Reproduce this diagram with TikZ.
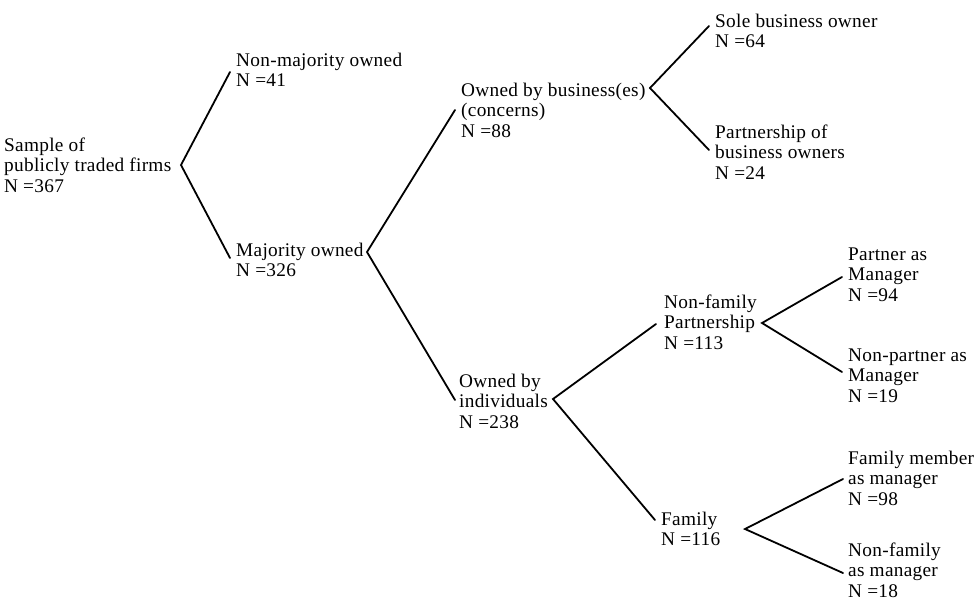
\documentclass[tikz,border=0pt]{standalone}
\usepackage{fontspec}
\setmainfont[LetterSpace=1.5]{Liberation Serif}
\begin{document}
\begin{tikzpicture}[x=1pt,y=-1pt,
  lbl/.style={anchor=base west,inner sep=0pt,font=\fontsize{19.3}{20.8}\selectfont},
  branch/.style={line width=1.8pt,line cap=round,line join=miter}]
\useasboundingbox (0,0) rectangle (976,600);
% text nodes (baseline of first line)
\node[lbl] (root) at (4,151) {\begin{tabular}[t]{@{}l@{}}Sample of\\publicly traded firms\\N =367\end{tabular}};
\node[lbl] (nonmaj) at (236,66) {\begin{tabular}[t]{@{}l@{}}Non-majority owned\\N =41\end{tabular}};
\node[lbl] (maj) at (236,256) {\begin{tabular}[t]{@{}l@{}}Majority owned\\N =326\end{tabular}};
\node[lbl] (bus) at (461,96) {\begin{tabular}[t]{@{}l@{}}Owned by business(es)\\(concerns)\\N =88\end{tabular}};
\node[lbl] (sole) at (715,27) {\begin{tabular}[t]{@{}l@{}}Sole business owner\\N =64\end{tabular}};
\node[lbl] (pship) at (715,138) {\begin{tabular}[t]{@{}l@{}}Partnership of\\business owners\\N =24\end{tabular}};
\node[lbl] (indiv) at (459,387) {\begin{tabular}[t]{@{}l@{}}Owned by\\individuals\\N =238\end{tabular}};
\node[lbl] (nfp) at (664,308) {\begin{tabular}[t]{@{}l@{}}Non-family\\Partnership\\N =113\end{tabular}};
\node[lbl] (pm) at (848,260) {\begin{tabular}[t]{@{}l@{}}Partner as\\Manager\\N =94\end{tabular}};
\node[lbl] (npm) at (848,361) {\begin{tabular}[t]{@{}l@{}}Non-partner as\\Manager\\N =19\end{tabular}};
\node[lbl] (fam) at (661,525) {\begin{tabular}[t]{@{}l@{}}Family\\N =116\end{tabular}};
\node[lbl] (fmm) at (848,464) {\begin{tabular}[t]{@{}l@{}}Family member\\as manager\\N =98\end{tabular}};
\node[lbl] (nfm) at (848,556) {\begin{tabular}[t]{@{}l@{}}Non-family\\as manager\\N =18\end{tabular}};
% branch points
\coordinate (v0) at (181,165);
\coordinate (a0) at (230,72);  \coordinate (b0) at (230,258);
\coordinate (v1) at (367,252);
\coordinate (a1) at (455,110); \coordinate (b1) at (455,400);
\coordinate (v2) at (650,88);
\coordinate (a2) at (709,26);  \coordinate (b2) at (709,150);
\coordinate (v3) at (553,399);
\coordinate (a3) at (656,324); \coordinate (b3) at (655,520);
\coordinate (v4) at (762,323);
\coordinate (a4) at (842,277); \coordinate (b4) at (842,372);
\coordinate (v5) at (745,529);
\coordinate (a5) at (843,479); \coordinate (b5) at (843,573);
\foreach \i in {0,...,5}{\draw[branch] (a\i) -- (v\i) -- (b\i);}
\end{tikzpicture}
\end{document}
